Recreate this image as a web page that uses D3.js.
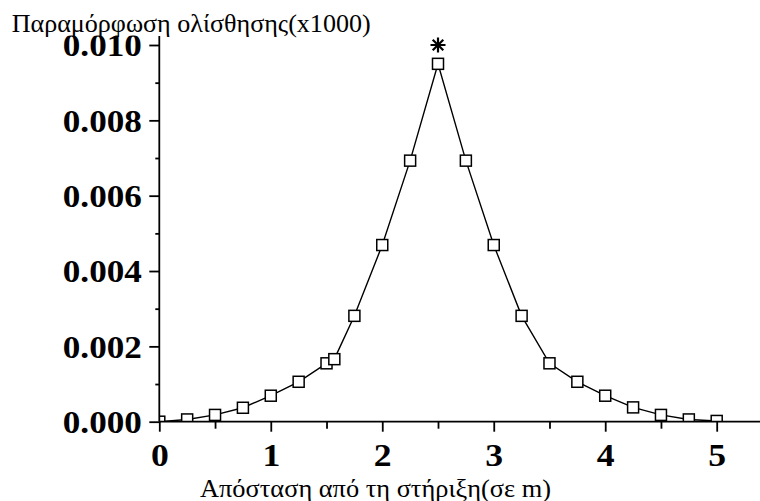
<!DOCTYPE html>
<html>
<head>
<meta charset="utf-8">
<script src="https://cdn.jsdelivr.net/npm/d3@7"></script>
<style>
  html, body { margin: 0; padding: 0; background: #fff; }
  svg { display: block; }
</style>
</head>
<body>
<svg id="chart" width="760" height="501"></svg>
<script>
// ---- data ----
const distances = [0, 0.25, 0.5, 0.75, 1.0, 1.25, 1.5, 1.57, 1.75, 2.0, 2.25, 2.5, 2.75, 3.0, 3.25, 3.5, 3.75, 4.0, 4.25, 4.5, 4.75, 5.0];
const strains   = [0, 0.00006, 0.00018, 0.00037, 0.00069, 0.00106, 0.00155, 0.00166, 0.00281, 0.00469, 0.00693, 0.0095, 0.00693, 0.00469, 0.00281, 0.00155, 0.00106, 0.00069, 0.00038, 0.00018, 0.00006, 0.00002];
const peakX = [2.5];
const peakY = [0.0100];
const xTicks = [0, 1, 2, 3, 4, 5];
const xMinorTicks = [0.5, 1.5, 2.5, 3.5, 4.5];
const yTicks = [0, 0.002, 0.004, 0.006, 0.008, 0.010];
const yMinorTicks = [0.001, 0.003, 0.005, 0.007, 0.009];
const titleY = "Παραμόρφωση ολίσθησης(x1000)";
const titleX = "Απόσταση από τη στήριξη(σε m)";

(function () {
// ---- layout ----
const svg = d3.select("#chart");
const pLeft = 159.3, pRight = 760, pBottom = 421.7, pTop = 36;
const x = d3.scaleLinear().domain([0, 5]).range([pLeft, 716.7]);
const y = d3.scaleLinear().domain([0, 0.01]).range([pBottom, 45]);
const xMax = x.invert(pRight);
const yMax = y.invert(pTop);
x.domain([0, xMax]).range([pLeft, pRight]);
y.domain([0, yMax]).range([pBottom, pTop]);

const serif = "'Liberation Serif', 'Times New Roman', serif";

svg.append("defs").append("clipPath").attr("id", "plotclip")
  .append("rect").attr("x", pLeft).attr("y", pTop)
  .attr("width", pRight - pLeft).attr("height", pBottom - pTop);

// ---- data layer ----
const pts = distances.map((d, i) => ({x: d, y: strains[i]}));
const g = svg.append("g").attr("clip-path", "url(#plotclip)");

g.append("path")
  .datum(pts)
  .attr("fill", "none")
  .attr("stroke", "#000")
  .attr("stroke-width", 1.4)
  .attr("d", d3.line().x(d => x(d.x)).y(d => y(d.y)));

const sq = 11;
g.selectAll("rect.m").data(pts).enter().append("rect")
  .attr("class", "m")
  .attr("x", d => x(d.x) - sq / 2)
  .attr("y", d => y(d.y) - sq / 2)
  .attr("width", sq).attr("height", sq)
  .attr("fill", "#fff").attr("stroke", "#000").attr("stroke-width", 1.5);

const peaks = peakX.map((d, i) => ({x: d, y: peakY[i]}));
const r = 7.5;
peaks.forEach(p => {
  const cx = x(p.x), cy = y(p.y);
  const sg = g.append("g").attr("stroke", "#000").attr("stroke-width", 2.2);
  [0, 45, 90, 135].forEach(a => {
    const rad = a * Math.PI / 180;
    sg.append("line")
      .attr("x1", cx - r * Math.cos(rad)).attr("y1", cy - r * Math.sin(rad))
      .attr("x2", cx + r * Math.cos(rad)).attr("y2", cy + r * Math.sin(rad));
  });
});

// ---- axes ----
const axisStroke = 1.8;
const xAxis = svg.append("g").attr("transform", `translate(0,${pBottom})`)
  .call(d3.axisBottom(x).tickValues(xTicks).tickSize(10).tickFormat(d3.format("d")));
const xMinor = svg.append("g").attr("transform", `translate(0,${pBottom})`)
  .call(d3.axisBottom(x).tickValues(xMinorTicks).tickSize(7).tickFormat(""));
xMinor.select(".domain").remove();

const yAxis = svg.append("g").attr("transform", `translate(${pLeft},0)`)
  .call(d3.axisLeft(y).tickValues(yTicks).tickSize(10).tickFormat(d3.format(".3f")));
const yMinor = svg.append("g").attr("transform", `translate(${pLeft},0)`)
  .call(d3.axisLeft(y).tickValues(yMinorTicks).tickSize(4).tickFormat(""));
yMinor.select(".domain").remove();

xAxis.select(".domain").attr("stroke", "#000").attr("stroke-width", axisStroke)
  .attr("d", `M${pLeft},0H${pRight}`);
yAxis.select(".domain").attr("stroke", "#000").attr("stroke-width", axisStroke)
  .attr("d", `M0,${pBottom}V${pTop}`);
svg.selectAll(".tick line").attr("stroke", "#000").attr("stroke-width", axisStroke);

xAxis.selectAll(".tick text")
  .attr("font-family", serif).attr("font-weight", "bold").attr("font-size", 31)
  .attr("fill", "#000").attr("y", 0).attr("dy", 0)
  .attr("transform", "translate(0,44.5) scale(1.15,1)");
yAxis.selectAll(".tick text")
  .attr("font-family", serif).attr("font-weight", "bold").attr("font-size", 32)
  .attr("fill", "#000").attr("x", -17.5).attr("dy", "0.34em")
  .attr("textLength", 79).attr("lengthAdjust", "spacingAndGlyphs");

// ---- titles ----
const t1 = svg.append("text")
  .attr("x", 11.7).attr("y", 31.5)
  .attr("font-family", serif).attr("font-size", 25).attr("fill", "#000")
  .attr("textLength", 359).attr("lengthAdjust", "spacingAndGlyphs")
  .text(titleY);
svg.insert("rect", "g")
  .attr("x", 0).attr("y", 0).attr("width", 380).attr("height", 35)
  .attr("fill", "#fff");
svg.append("rect")
  .attr("x", 60).attr("y", 0).attr("width", 90).attr("height", 35.5)
  .attr("fill", "#fff");
t1.raise();
svg.append("text")
  .attr("x", 200).attr("y", 496.5)
  .attr("font-family", serif).attr("font-size", 25).attr("fill", "#000")
  .attr("textLength", 351).attr("lengthAdjust", "spacingAndGlyphs")
  .text(titleX);
})();
</script>
</body>
</html>
